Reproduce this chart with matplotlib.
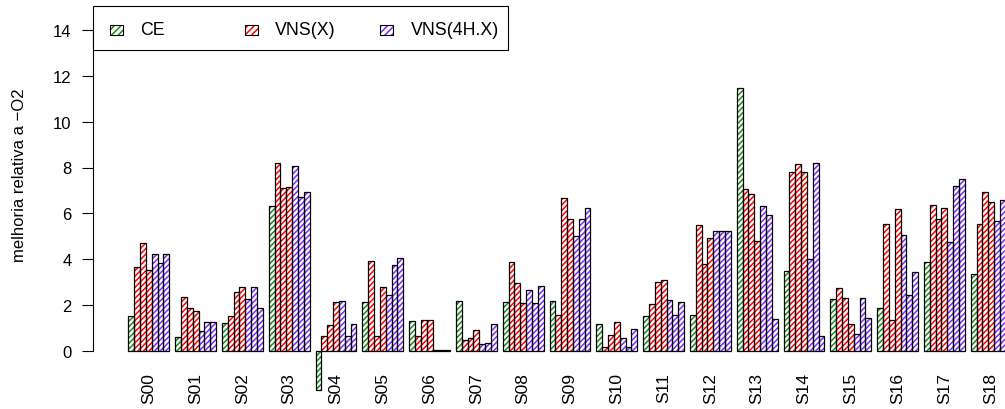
import matplotlib
matplotlib.use("Agg")
import matplotlib.pyplot as plt
from matplotlib.patches import Rectangle

plt.rcParams['font.family'] = ['Liberation Sans', 'DejaVu Sans']
plt.rcParams['font.size'] = 12
plt.rcParams['hatch.linewidth'] = 1.1

# ---- data ----
categories = ['S00', 'S01', 'S02', 'S03', 'S04', 'S05', 'S06', 'S07', 'S08', 'S09',
              'S10', 'S11', 'S12', 'S13', 'S14', 'S15', 'S16', 'S17', 'S18']
series_names = ['CE', 'VNS(X)', 'VNS(4H.X)']

ce = [1.50, 0.58, 1.20, 6.31, -1.70, 2.11, 1.31, 2.16, 2.11, 2.16,
      1.15, 1.50, 1.55, 11.46, 3.48, 2.24, 1.86, 3.86, 3.35]

vns_x = [
    [3.64, 4.70, 3.54],
    [2.33, 1.85, 1.75],
    [1.50, 2.55, 2.77],
    [8.20, 7.09, 7.16],
    [0.63, 1.12, 2.11],
    [3.90, 0.66, 2.77],
    [0.63, 1.34, 1.34],
    [0.47, 0.54, 0.90],
    [3.86, 2.97, 2.07],
    [1.56, 6.65, 5.75],
    [0.16, 0.70, 1.24],
    [2.03, 3.00, 3.09],
    [5.49, 3.79, 4.91],
    [7.07, 6.83, 4.78],
    [7.80, 8.14, 7.79],
    [2.75, 2.32, 1.15],
    [5.53, 1.35, 6.17],
    [6.38, 5.74, 6.22],
    [5.55, 6.92, 6.48],
]

vns_4h = [
    [4.24, 3.83, 4.24],
    [0.85, 1.24, 1.24],
    [2.26, 2.77, 1.86],
    [8.05, 6.73, 6.94],
    [2.18, 0.63, 1.18],
    [2.45, 3.73, 4.05],
    [0.03, 0.03, 0.03],
    [0.29, 0.32, 1.18],
    [2.64, 2.07, 2.81],
    [5.00, 5.75, 6.25],
    [0.54, 0.16, 0.95],
    [2.20, 1.56, 2.11],
    [5.21, 5.21, 5.21],
    [6.32, 5.91, 1.38],
    [4.02, 8.18, 0.63],
    [0.73, 2.32, 1.41],
    [5.07, 2.45, 3.42],
    [4.73, 7.21, 7.50],
    [5.68, 6.59, 6.30],
]

colors = ['#1a8a1a', '#ff0000', '#7a2cff']
HATCH = '//////'

W, H = 1005, 410
fig = plt.figure(figsize=(W / 100, H / 100), dpi=100)


def fx(x):
    return x / W


def fy(y):
    return 1 - y / H


# plot region (pixel layout)
left_px, right_px, top_px, bot_px = 93, 1005, 7, 360
ax = fig.add_axes([fx(left_px), fy(bot_px), fx(right_px - left_px), (bot_px - top_px) / H])

# bar units: one unit per bar, one empty unit between groups
unit_px = 5.85
origin_px = 122.45
y0_px, per_unit = 351.7, 22.9


def hatched_bars(x, h, color):
    # coloured hatching first, then black outline on top
    ax.bar(x, h, width=1, align='edge', facecolor='white', edgecolor=color,
           hatch=HATCH, linewidth=0, clip_on=False, zorder=2)
    ax.bar(x, h, width=1, align='edge', facecolor='none', edgecolor='black',
           linewidth=0.9, clip_on=False, zorder=3)


group_size = 7
for i in range(len(categories)):
    base = 1 + 8 * i
    hatched_bars([base], [ce[i]], colors[0])
    hatched_bars([base + 1 + k for k in range(3)], vns_x[i], colors[1])
    hatched_bars([base + 4 + k for k in range(3)], vns_4h[i], colors[2])

# axes styling
for s in ['top', 'right', 'bottom']:
    ax.spines[s].set_visible(False)
ax.spines['left'].set_bounds(0, 14)
ax.spines['left'].set_linewidth(0.8)
ax.set_yticks(range(0, 15, 2))
ax.tick_params(axis='y', length=8, width=0.8, pad=7.5, labelsize=12)

centers = [1 + 8 * i + group_size / 2 for i in range(len(categories))]
ax.set_xticks(centers)
ax.set_xticklabels(categories, rotation=90, fontsize=12.5)
ax.tick_params(axis='x', length=0, pad=9.5)

# view limits last, so tick setting cannot widen them
ax.autoscale(False)
ax.set_xlim((left_px - origin_px) / unit_px, (right_px - origin_px) / unit_px)
ax.set_ylim((y0_px - bot_px) / per_unit, (y0_px - top_px) / per_unit)

fig.text(fx(20), fy(175), 'melhoria relativa a \u2212O2', rotation=90,
         ha='center', va='center', fontsize=12)

# legend box
fig.add_artist(Rectangle((fx(93), fy(51)), fx(508 - 93), (51 - 7) / H,
                         transform=fig.transFigure, facecolor='white',
                         edgecolor='black', linewidth=0.8, zorder=5))
legend_x = [(110, 140), (245, 275), (380, 410.5)]
for (px_, tx), name, c in zip(legend_x, series_names, colors):
    fig.add_artist(Rectangle((fx(px_), fy(35.5)), fx(12.5), 10 / H,
                             transform=fig.transFigure, facecolor='white',
                             edgecolor=c, hatch='/////', linewidth=0, zorder=6))
    fig.add_artist(Rectangle((fx(px_), fy(35.5)), fx(12.5), 10 / H,
                             transform=fig.transFigure, facecolor='none',
                             edgecolor='black', linewidth=0.8, zorder=7))
    fig.text(fx(tx), fy(30.5), name, ha='left', va='center', fontsize=12.8, zorder=8)

fig.savefig('out.png', dpi=100)
